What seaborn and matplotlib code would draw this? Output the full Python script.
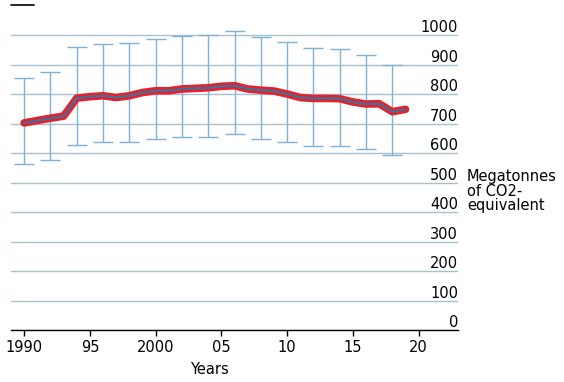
import matplotlib
matplotlib.use("Agg")

import numpy as np
import pandas as pd
import matplotlib.pyplot as plt
import matplotlib.patheffects as pe
from matplotlib.lines import Line2D
import seaborn as sns

# emissions per year (Mt CO2-eq)
years = list(range(1990, 2020))
emissions = [702, 710, 718, 725, 786, 791, 794, 788, 794, 805,
             811, 811, 817, 819, 821, 826, 828, 817, 813, 810,
             800, 788, 785, 785, 784, 773, 766, 767, 740, 748]

# uncertainty range, every second year
err_years = list(range(1990, 2019, 2))
err_upper = [853, 875, 958, 968, 972, 988, 997, 1000, 1012, 992, 975, 955, 951, 931, 900]
err_lower = [563, 576, 627, 637, 637, 647, 655, 653, 663, 646, 636, 623, 623, 613, 593]

xtick_vals = [1990, 1995, 2000, 2005, 2010, 2015, 2020]
xtick_labels = ["1990", "95", "2000", "05", "10", "15", "20"]
ytick_vals = list(range(0, 1001, 100))

df = pd.DataFrame({"year": years, "emissions": emissions})
err = pd.DataFrame({"year": err_years, "upper": err_upper, "lower": err_lower})
err["mid"] = err["year"].map(dict(zip(years, emissions)))

sns.set_style("white")
plt.rcParams["font.family"] = ["DejaVu Sans"]
plt.rcParams["text.color"] = "black"
plt.rcParams["axes.labelcolor"] = "black"
plt.rcParams["xtick.color"] = "black"
plt.rcParams["ytick.color"] = "black"

fig = plt.figure(figsize=(5.64, 3.82), dpi=100)
ax = fig.add_axes([0.0195, 0.1361, 0.7926, 0.8495])

# gridlines
ax.set_yticks(ytick_vals)
ax.grid(axis="y", color="#a7bfcf", linewidth=1.0)
ax.grid(axis="x", visible=False)
ax.set_axisbelow(True)

# error bars
ax.errorbar(err["year"], err["mid"],
            yerr=[err["mid"] - err["lower"], err["upper"] - err["mid"]],
            fmt="none", ecolor="#7fb1d6", elinewidth=1.0, capsize=7,
            capthick=1.0, zorder=2)

# main line with red outline
sns.lineplot(data=df, x="year", y="emissions", ax=ax, color="#4d6a94",
             linewidth=1.8, zorder=3,
             path_effects=[pe.Stroke(linewidth=5.5, foreground="#e8202a"), pe.Normal()])

ax.set_xlim(1989, 2023)
ax.set_ylim(0, 1100)

for s in ["top", "left", "right"]:
    ax.spines[s].set_visible(False)
ax.spines["bottom"].set_color("black")
ax.spines["bottom"].set_linewidth(1.0)

ax.set_xticks(xtick_vals)
ax.set_xticklabels(xtick_labels, fontsize=10.5)
ax.tick_params(axis="x", bottom=True, length=4, width=1, color="black", pad=3.5)

ax.yaxis.tick_right()
ax.tick_params(axis="y", length=0, pad=0, labelsize=10.5)
for lbl in ax.get_yticklabels():
    lbl.set_horizontalalignment("right")
    lbl.set_verticalalignment("bottom")

ax.set_ylabel("")
ax.set_xlabel("Years", fontsize=10.5)
ax.xaxis.set_label_coords(0.443, -0.10)

ax.text(1.02, 470, "Megatonnes\nof CO2-\nequivalent", transform=ax.get_yaxis_transform(),
        ha="left", va="center", fontsize=10.5, linespacing=0.95)

# small black legend handle in the top left corner
ax.legend(handles=[Line2D([], [], color="black", linewidth=1.2)], labels=[""],
          loc="center left", bbox_to_anchor=(0, 1.0), frameon=False,
          borderpad=0, borderaxespad=0, handlelength=1.6, handletextpad=0,
          fontsize=10.5)

plt.savefig("out.png", dpi=100)
plt.close()
